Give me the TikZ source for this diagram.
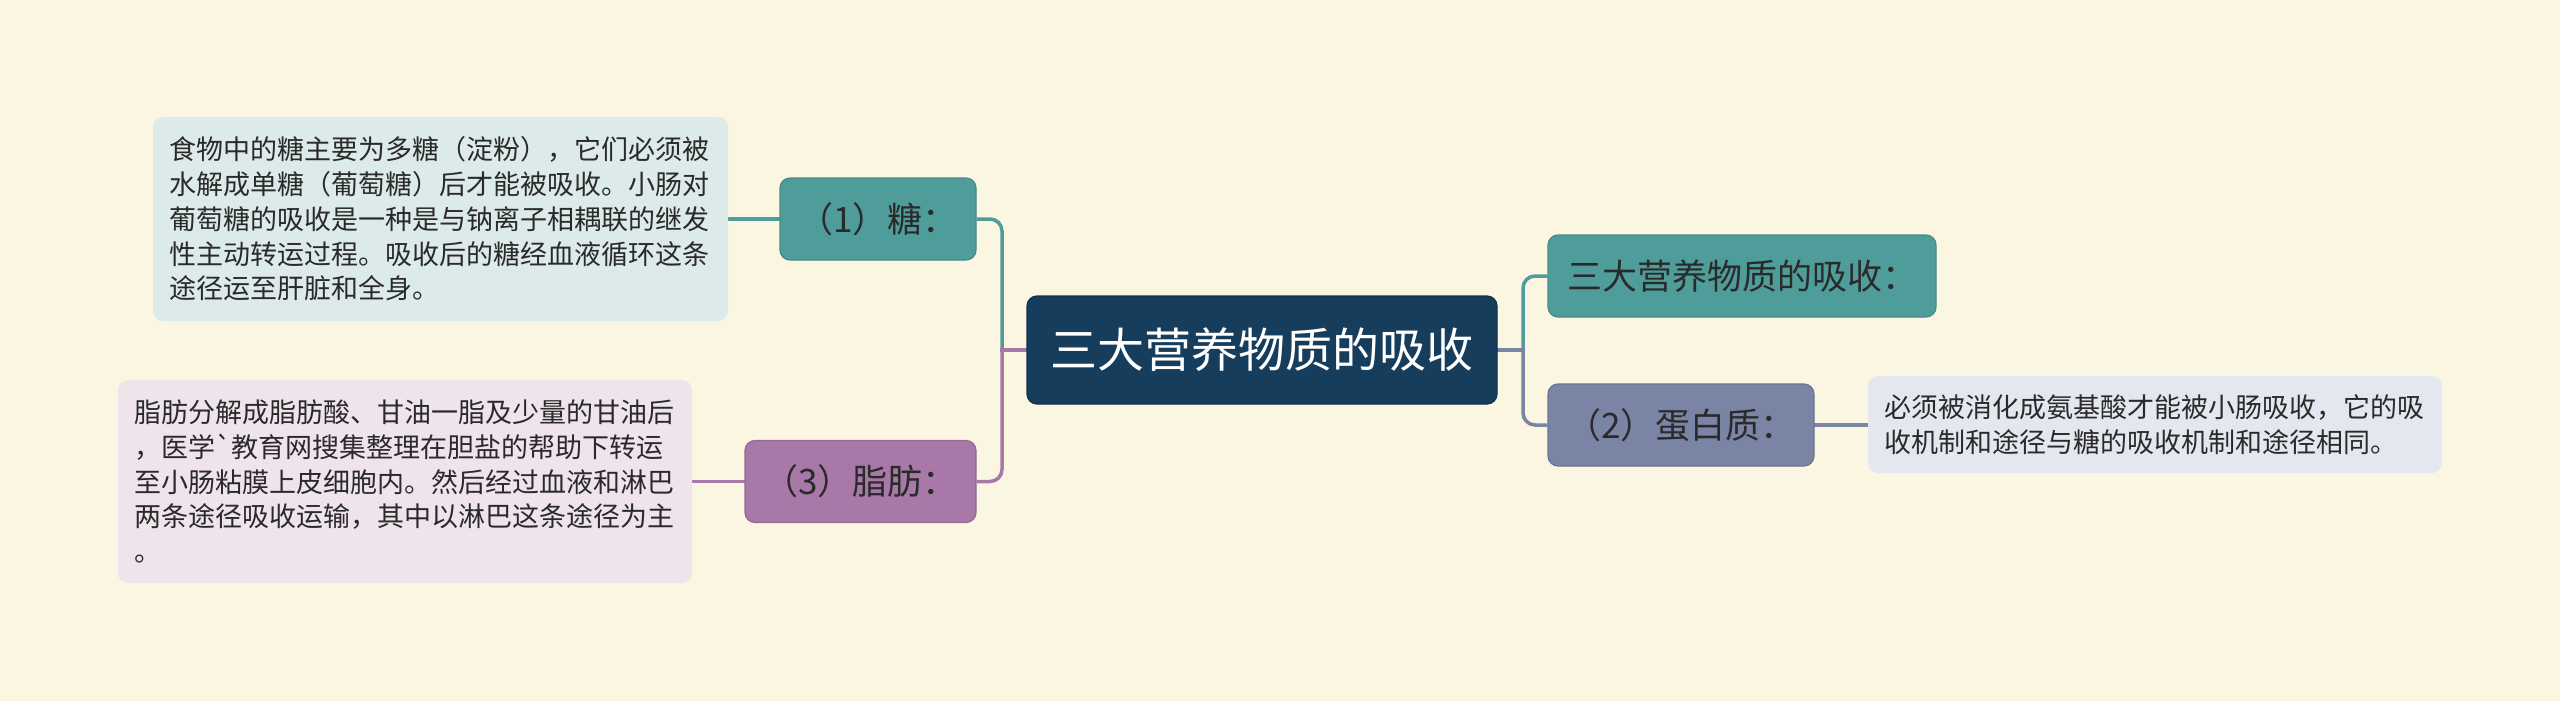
\documentclass[tikz,border=0pt]{standalone}
\usepackage{fontspec}
\newfontfamily\cjk{Noto Sans CJK SC}
\definecolor{bgc}{HTML}{FBF6E1}
\definecolor{navy}{HTML}{173D5C}
\definecolor{tealc}{HTML}{4F9D9B}
\definecolor{purc}{HTML}{A878A9}
\definecolor{slatec}{HTML}{7A84A5}
\definecolor{leafA}{HTML}{DCEBE9}
\definecolor{leafB}{HTML}{EFE4EC}
\definecolor{leafC}{HTML}{E4E7EF}
\definecolor{txt}{HTML}{2A2A2A}
\pgfdeclarelayer{back}
\pgfdeclarelayer{lines}
\pgfsetlayers{back,lines,main}
\begin{document}
\begin{tikzpicture}[x=1pt,y=1pt,
  midbox/.style={rounded corners=10pt, minimum height=82pt, inner sep=0pt,
    text=txt, font=\cjk\fontsize{35}{42}\selectfont,
    draw=#1!88!black, fill=#1, line width=1.2pt},
  leafbox/.style={rounded corners=10pt, inner xsep=16pt, inner ysep=0pt,
    align=left, font=\cjk\fontsize{27}{34.8}\selectfont, text=txt, fill=#1},
  conn/.style={line width=3.5pt, draw=#1, rounded corners=12pt},
  stub/.style={line width=3.5pt, draw=#1, line cap=rect}
]
\begin{pgfonlayer}{back}
\fill[bgc] (0,0) rectangle (2560,-701);
\end{pgfonlayer}
\useasboundingbox (0,0) rectangle (2560,-701);

% central
\node[fill=navy, draw=navy!80!black, line width=1.2pt, rounded corners=10pt,
      minimum width=470pt, minimum height=108pt, inner sep=0pt, text=white,
      font=\cjk\fontsize{47}{56}\selectfont] (c) at (1262,-350) {三大营养物质的吸收};

% mid level
\node[midbox=tealc, minimum width=196pt] (t1) at (878,-219) {（1）糖：};
\node[midbox=purc, minimum width=231pt] (t3) at (860.5,-481.5) {（3）脂肪：};
\node[midbox=tealc, minimum width=388pt] (r1) at (1742,-276) {三大营养物质的吸收：};
\node[midbox=slatec, minimum width=266pt] (r2) at (1681,-425) {（2）蛋白质：};

% leaves
\node[leafbox=leafA, text width=543pt, minimum height=204pt] (l1) at (440.5,-219) {食物中的糖主要为多糖（淀粉），它们必须被\\水解成单糖（葡萄糖）后才能被吸收。小肠对\\葡萄糖的吸收是一种是与钠离子相耦联的继发\\性主动转运过程。吸收后的糖经血液循环这条\\途径运至肝脏和全身。};
\node[leafbox=leafB, text width=542pt, minimum height=203pt] (l3) at (405,-481.5) {脂肪分解成脂肪酸、甘油一脂及少量的甘油后\\，医学`教育网搜集整理在胆盐的帮助下转运\\至小肠粘膜上皮细胞内。然后经过血液和淋巴\\两条途径吸收运输，其中以淋巴这条途径为主\\。};
\node[leafbox=leafC, text width=542pt, minimum height=97pt] (l2) at (2155,-424.5) {必须被消化成氨基酸才能被小肠吸收，它的吸\\收机制和途径与糖的吸收机制和途径相同。};

\coordinate (jl) at (1002,-350);
\coordinate (jr) at (1523,-350);

\begin{pgfonlayer}{lines}
\draw[conn=tealc] (t1.east) -| (jl);
\draw[stub=purc] (c.west) -- (jl);
\draw[conn=purc] (jl) |- (t3.east);
\draw[conn=tealc] (r1.west) -| (jr);
\draw[stub=slatec] (c.east) -- (jr);
\draw[conn=slatec] (jr) |- (r2.west);
\draw[stub=tealc] (t1.west) -- (t1.west -| l1.east);
\draw[stub=purc] (t3.west) -- (t3.west -| l3.east);
\draw[stub=slatec] (r2.east) -- (r2.east -| l2.west);
\end{pgfonlayer}
\end{tikzpicture}
\end{document}
